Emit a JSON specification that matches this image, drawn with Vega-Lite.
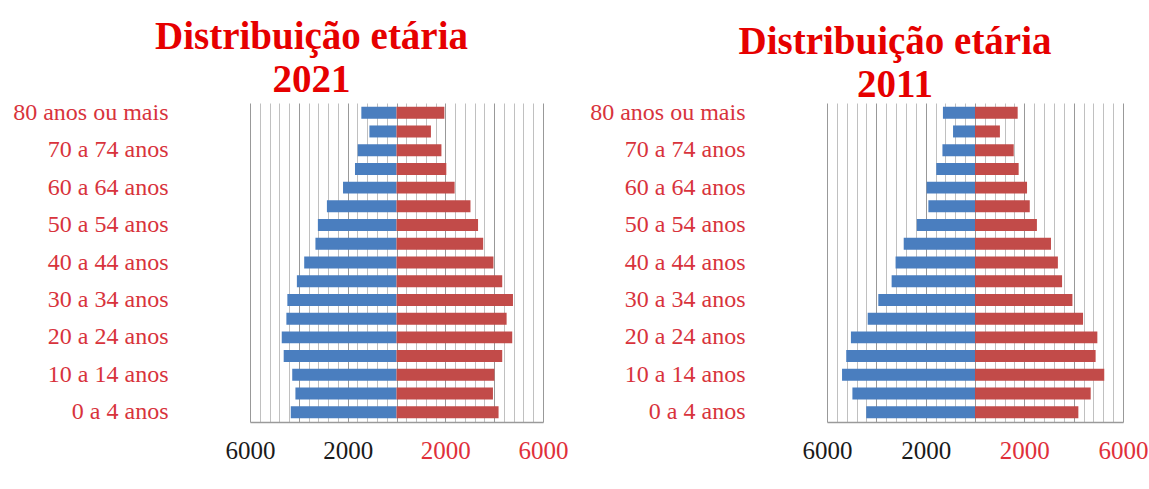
{
  "$schema": "https://vega.github.io/schema/vega-lite/v6.json",
  "background": "white",
  "padding": {"left": 12, "top": 18, "right": 0, "bottom": 5},
  "config": {
    "font": "Liberation Serif",
    "view": {"stroke": null},
    "axis": {"labelFont": "Liberation Serif"}
  },
  "datasets": {
    "p2021": [
      {"idade": "80 anos ou mais", "sexo": "Homens", "valor": -1440}, {"idade": "80 anos ou mais", "sexo": "Mulheres", "valor": 1960},
      {"idade": "75 a 79 anos", "sexo": "Homens", "valor": -1110}, {"idade": "75 a 79 anos", "sexo": "Mulheres", "valor": 1410},
      {"idade": "70 a 74 anos", "sexo": "Homens", "valor": -1590}, {"idade": "70 a 74 anos", "sexo": "Mulheres", "valor": 1840},
      {"idade": "65 a 69 anos", "sexo": "Homens", "valor": -1700}, {"idade": "65 a 69 anos", "sexo": "Mulheres", "valor": 2040},
      {"idade": "60 a 64 anos", "sexo": "Homens", "valor": -2190}, {"idade": "60 a 64 anos", "sexo": "Mulheres", "valor": 2380},
      {"idade": "55 a 59 anos", "sexo": "Homens", "valor": -2850}, {"idade": "55 a 59 anos", "sexo": "Mulheres", "valor": 3030},
      {"idade": "50 a 54 anos", "sexo": "Homens", "valor": -3220}, {"idade": "50 a 54 anos", "sexo": "Mulheres", "valor": 3340},
      {"idade": "45 a 49 anos", "sexo": "Homens", "valor": -3320}, {"idade": "45 a 49 anos", "sexo": "Mulheres", "valor": 3550},
      {"idade": "40 a 44 anos", "sexo": "Homens", "valor": -3780}, {"idade": "40 a 44 anos", "sexo": "Mulheres", "valor": 3970},
      {"idade": "35 a 39 anos", "sexo": "Homens", "valor": -4080}, {"idade": "35 a 39 anos", "sexo": "Mulheres", "valor": 4330},
      {"idade": "30 a 34 anos", "sexo": "Homens", "valor": -4470}, {"idade": "30 a 34 anos", "sexo": "Mulheres", "valor": 4770},
      {"idade": "25 a 29 anos", "sexo": "Homens", "valor": -4510}, {"idade": "25 a 29 anos", "sexo": "Mulheres", "valor": 4510},
      {"idade": "20 a 24 anos", "sexo": "Homens", "valor": -4700}, {"idade": "20 a 24 anos", "sexo": "Mulheres", "valor": 4740},
      {"idade": "15 a 19 anos", "sexo": "Homens", "valor": -4620}, {"idade": "15 a 19 anos", "sexo": "Mulheres", "valor": 4330},
      {"idade": "10 a 14 anos", "sexo": "Homens", "valor": -4270}, {"idade": "10 a 14 anos", "sexo": "Mulheres", "valor": 4010},
      {"idade": "5 a 9 anos", "sexo": "Homens", "valor": -4140}, {"idade": "5 a 9 anos", "sexo": "Mulheres", "valor": 3950},
      {"idade": "0 a 4 anos", "sexo": "Homens", "valor": -4330}, {"idade": "0 a 4 anos", "sexo": "Mulheres", "valor": 4180}
    ],
    "p2011": [
      {"idade": "80 anos ou mais", "sexo": "Homens", "valor": -1300}, {"idade": "80 anos ou mais", "sexo": "Mulheres", "valor": 1730},
      {"idade": "75 a 79 anos", "sexo": "Homens", "valor": -890}, {"idade": "75 a 79 anos", "sexo": "Mulheres", "valor": 1010},
      {"idade": "70 a 74 anos", "sexo": "Homens", "valor": -1320}, {"idade": "70 a 74 anos", "sexo": "Mulheres", "valor": 1570},
      {"idade": "65 a 69 anos", "sexo": "Homens", "valor": -1570}, {"idade": "65 a 69 anos", "sexo": "Mulheres", "valor": 1770},
      {"idade": "60 a 64 anos", "sexo": "Homens", "valor": -1960}, {"idade": "60 a 64 anos", "sexo": "Mulheres", "valor": 2110},
      {"idade": "55 a 59 anos", "sexo": "Homens", "valor": -1890}, {"idade": "55 a 59 anos", "sexo": "Mulheres", "valor": 2220},
      {"idade": "50 a 54 anos", "sexo": "Homens", "valor": -2360}, {"idade": "50 a 54 anos", "sexo": "Mulheres", "valor": 2510},
      {"idade": "45 a 49 anos", "sexo": "Homens", "valor": -2890}, {"idade": "45 a 49 anos", "sexo": "Mulheres", "valor": 3080},
      {"idade": "40 a 44 anos", "sexo": "Homens", "valor": -3220}, {"idade": "40 a 44 anos", "sexo": "Mulheres", "valor": 3360},
      {"idade": "35 a 39 anos", "sexo": "Homens", "valor": -3380}, {"idade": "35 a 39 anos", "sexo": "Mulheres", "valor": 3530},
      {"idade": "30 a 34 anos", "sexo": "Homens", "valor": -3920}, {"idade": "30 a 34 anos", "sexo": "Mulheres", "valor": 3950},
      {"idade": "25 a 29 anos", "sexo": "Homens", "valor": -4350}, {"idade": "25 a 29 anos", "sexo": "Mulheres", "valor": 4380},
      {"idade": "20 a 24 anos", "sexo": "Homens", "valor": -5030}, {"idade": "20 a 24 anos", "sexo": "Mulheres", "valor": 4960},
      {"idade": "15 a 19 anos", "sexo": "Homens", "valor": -5220}, {"idade": "15 a 19 anos", "sexo": "Mulheres", "valor": 4890},
      {"idade": "10 a 14 anos", "sexo": "Homens", "valor": -5390}, {"idade": "10 a 14 anos", "sexo": "Mulheres", "valor": 5240},
      {"idade": "5 a 9 anos", "sexo": "Homens", "valor": -4970}, {"idade": "5 a 9 anos", "sexo": "Mulheres", "valor": 4690},
      {"idade": "0 a 4 anos", "sexo": "Homens", "valor": -4410}, {"idade": "0 a 4 anos", "sexo": "Mulheres", "valor": 4190}
    ]
  },
  "bounds": "flush",
  "spacing": 284,
  "hconcat": [
    {
      "data": {"name": "p2021"},
      "width": 293,
      "height": 319,
      "title": {"text": ["Distribuição etária", "2021"], "font": "Liberation Serif", "fontSize": 39, "fontWeight": "bold", "color": "#e60000", "frame": "group", "anchor": "middle", "dx": -85, "lineHeight": 43, "offset": 0},
      "mark": {"type": "bar"},
      "encoding": {
        "y": {"field": "idade", "type": "nominal",
          "sort": ["80 anos ou mais", "75 a 79 anos", "70 a 74 anos", "65 a 69 anos", "60 a 64 anos", "55 a 59 anos", "50 a 54 anos", "45 a 49 anos", "40 a 44 anos", "35 a 39 anos", "30 a 34 anos", "25 a 29 anos", "20 a 24 anos", "15 a 19 anos", "10 a 14 anos", "5 a 9 anos", "0 a 4 anos"],
          "scale": {"paddingInner": 0.36, "paddingOuter": 0.2},
          "axis": {"title": null, "values": ["80 anos ou mais", "70 a 74 anos", "60 a 64 anos", "50 a 54 anos", "40 a 44 anos", "30 a 34 anos", "20 a 24 anos", "10 a 14 anos", "0 a 4 anos"], "domain": false, "ticks": false, "grid": false, "labelPadding": 82, "labelFontSize": 24, "labelColor": "#d8333c"}},
        "x": {"field": "valor", "type": "quantitative",
          "scale": {"domain": [-6000, 6000], "nice": false, "zero": false},
          "axis": {"title": null, "values": [-6000, -5600, -5200, -4800, -4400, -4000, -3600, -3200, -2800, -2400, -2000, -1600, -1200, -800, -400, 0, 400, 800, 1200, 1600, 2000, 2400, 2800, 3200, 3600, 4000, 4400, 4800, 5200, 5600, 6000],
            "ticks": false, "domain": true, "domainColor": "#9a9a9a", "domainWidth": 1.5, "grid": true,
            "gridColor": {"condition": {"test": "abs(datum.value) % 2000 === 0", "value": "#999999"}, "value": "#c0c0c0"},
            "labelExpr": "abs(datum.value) == 2000 || abs(datum.value) == 6000 ? format(abs(datum.value), 'd') : ''",
            "labelColor": {"condition": {"test": "datum.value < 0", "value": "#1a1a1a"}, "value": "#e0303a"},
            "labelFontSize": 25, "labelPadding": 16, "labelOverlap": false, "labelFlush": false}},
        "color": {"field": "sexo", "type": "nominal", "scale": {"domain": ["Homens", "Mulheres"], "range": ["#4a7ebf", "#c24b49"]}, "legend": null}
      }
    },
    {
      "data": {"name": "p2011"},
      "width": 296,
      "height": 319,
      "title": {"text": ["Distribuição etária", "2011"], "font": "Liberation Serif", "fontSize": 39, "fontWeight": "bold", "color": "#e60000", "frame": "group", "anchor": "middle", "dx": -80, "dy": 5, "lineHeight": 43, "offset": 0},
      "mark": {"type": "bar"},
      "encoding": {
        "y": {"field": "idade", "type": "nominal",
          "sort": ["80 anos ou mais", "75 a 79 anos", "70 a 74 anos", "65 a 69 anos", "60 a 64 anos", "55 a 59 anos", "50 a 54 anos", "45 a 49 anos", "40 a 44 anos", "35 a 39 anos", "30 a 34 anos", "25 a 29 anos", "20 a 24 anos", "15 a 19 anos", "10 a 14 anos", "5 a 9 anos", "0 a 4 anos"],
          "scale": {"paddingInner": 0.36, "paddingOuter": 0.2},
          "axis": {"title": null, "values": ["80 anos ou mais", "70 a 74 anos", "60 a 64 anos", "50 a 54 anos", "40 a 44 anos", "30 a 34 anos", "20 a 24 anos", "10 a 14 anos", "0 a 4 anos"], "domain": false, "ticks": false, "grid": false, "labelPadding": 82, "labelFontSize": 24, "labelColor": "#d8333c"}},
        "x": {"field": "valor", "type": "quantitative",
          "scale": {"domain": [-6000, 6000], "nice": false, "zero": false},
          "axis": {"title": null, "values": [-6000, -5600, -5200, -4800, -4400, -4000, -3600, -3200, -2800, -2400, -2000, -1600, -1200, -800, -400, 0, 400, 800, 1200, 1600, 2000, 2400, 2800, 3200, 3600, 4000, 4400, 4800, 5200, 5600, 6000],
            "ticks": false, "domain": true, "domainColor": "#9a9a9a", "domainWidth": 1.5, "grid": true,
            "gridColor": {"condition": {"test": "abs(datum.value) % 2000 === 0", "value": "#999999"}, "value": "#c0c0c0"},
            "labelExpr": "abs(datum.value) == 2000 || abs(datum.value) == 6000 ? format(abs(datum.value), 'd') : ''",
            "labelColor": {"condition": {"test": "datum.value < 0", "value": "#1a1a1a"}, "value": "#e0303a"},
            "labelFontSize": 25, "labelPadding": 16, "labelOverlap": false, "labelFlush": false}},
        "color": {"field": "sexo", "type": "nominal", "scale": {"domain": ["Homens", "Mulheres"], "range": ["#4a7ebf", "#c24b49"]}, "legend": null}
      }
    }
  ]
}
